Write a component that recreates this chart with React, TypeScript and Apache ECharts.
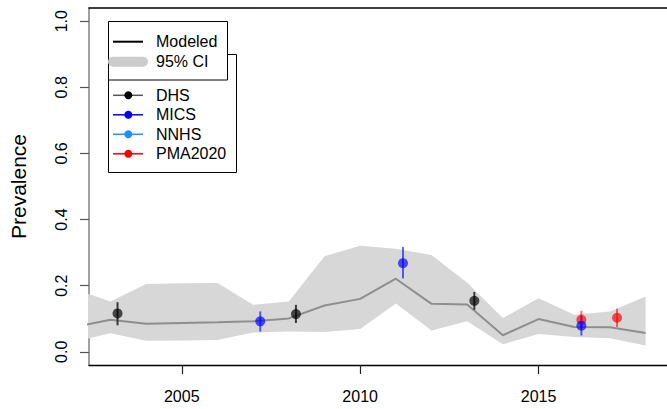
import React, { useEffect, useRef } from "react";
import * as echarts from "echarts";

// Modeled prevalence (yearly) with 95% CI
const years = [2002, 2003, 2004, 2005, 2006, 2007, 2008, 2009, 2010, 2011, 2012, 2013, 2014, 2015, 2016, 2017, 2018];
const modeled = [0.075, 0.097, 0.085, 0.087, 0.089, 0.092, 0.101, 0.140, 0.160, 0.221, 0.145, 0.143, 0.050, 0.099, 0.075, 0.074, 0.057];
const ciUpper = [0.190, 0.152, 0.205, 0.207, 0.208, 0.142, 0.152, 0.289, 0.321, 0.312, 0.293, 0.209, 0.102, 0.162, 0.112, 0.122, 0.167];
const ciLower = [0.031, 0.056, 0.033, 0.034, 0.036, 0.058, 0.061, 0.060, 0.069, 0.146, 0.064, 0.092, 0.023, 0.054, 0.045, 0.041, 0.019];

// Survey observations
const dhsX = [2003.2, 2008.2, 2013.2];
const dhsY = [0.116, 0.114, 0.154];
const dhsLo = [0.080, 0.087, 0.127];
const dhsHi = [0.150, 0.142, 0.181];

const micsX = [2007.2, 2011.2, 2016.2];
const micsY = [0.092, 0.268, 0.079];
const micsLo = [0.061, 0.222, 0.049];
const micsHi = [0.122, 0.317, 0.110];

const pmaX = [2016.2, 2017.2];
const pmaY = [0.097, 0.103];
const pmaLo = [0.070, 0.075];
const pmaHi = [0.124, 0.130];

const xTicks = [2005, 2010, 2015];
const yTicks = [0, 0.2, 0.4, 0.6, 0.8, 1.0];

const sourceNames = ["DHS", "MICS", "NNHS", "PMA2020"];
const sourceColors = ["#000000", "#0000ff", "#1e90ff", "#ff0000"];
const sourceLineColors = ["#555555", "#0000ff", "#1e90ff", "#ff0000"];

const FONT = "'Liberation Sans', Arial, Helvetica, sans-serif";

function errorBarSeries(name: string, xs: number[], lo: number[], hi: number[], color: string) {
  return {
    type: "custom",
    name: name + " CI",
    data: xs.map((x, i) => [x, lo[i], hi[i]]),
    renderItem: (params: any, api: any) => {
      const p1 = api.coord([api.value(0), api.value(1)]);
      const p2 = api.coord([api.value(0), api.value(2)]);
      return {
        type: "line",
        shape: { x1: p1[0], y1: p1[1], x2: p2[0], y2: p2[1] },
        style: { stroke: color, lineWidth: 2 },
      };
    },
    z: 3,
  };
}

function pointSeries(name: string, xs: number[], ys: number[], color: string) {
  return {
    type: "scatter",
    name,
    data: xs.map((x, i) => [x, ys[i]]),
    symbol: "circle",
    symbolSize: 10,
    itemStyle: { color },
    z: 4,
  };
}

export default function App() {
  const ref = useRef<HTMLDivElement>(null);
  useEffect(() => {
    document.body.style.margin = "0";
    if (!ref.current) return;
    const chart = echarts.init(ref.current, undefined, { renderer: "svg" });

    const legendGraphics: any[] = [];
    // box 2 (sources)
    legendGraphics.push({
      type: "rect",
      shape: { x: 108.5, y: 54.5, width: 128, height: 118 },
      style: { fill: "#ffffff", stroke: "#000000", lineWidth: 1 },
      z: 100,
    });
    sourceNames.forEach((n, i) => {
      const y = 95.3 + i * 19.5;
      legendGraphics.push({
        type: "line",
        shape: { x1: 113, y1: y, x2: 143, y2: y },
        style: { stroke: sourceLineColors[i], lineWidth: 1.5 },
        z: 101,
      });
      legendGraphics.push({
        type: "circle",
        shape: { cx: 128.3, cy: y, r: 4 },
        style: { fill: sourceColors[i] },
        z: 102,
      });
      legendGraphics.push({
        type: "text",
        x: 156,
        y,
        style: { text: n, fill: "#000", font: `16px ${FONT}`, verticalAlign: "middle" },
        z: 102,
      });
    });
    // box 1 (model)
    legendGraphics.push({
      type: "rect",
      shape: { x: 108.5, y: 21.5, width: 119, height: 58.5 },
      style: { fill: "#ffffff", stroke: "#000000", lineWidth: 1 },
      z: 110,
    });
    legendGraphics.push({
      type: "line",
      shape: { x1: 113, y1: 41.7, x2: 143, y2: 41.7 },
      style: { stroke: "#000000", lineWidth: 2 },
      z: 111,
    });
    legendGraphics.push({
      type: "text",
      x: 156,
      y: 41.7,
      style: { text: "Modeled", fill: "#000", font: `16px ${FONT}`, verticalAlign: "middle" },
      z: 111,
    });
    legendGraphics.push({
      type: "line",
      shape: { x1: 113, y1: 61.7, x2: 143, y2: 61.7 },
      style: { stroke: "#cccccc", lineWidth: 10, lineCap: "round" },
      z: 111,
    });
    legendGraphics.push({
      type: "text",
      x: 156,
      y: 61.7,
      style: { text: "95% CI", fill: "#000", font: `16px ${FONT}`, verticalAlign: "middle" },
      z: 111,
    });

    const xMin = 2002.4;
    const xMax = 2018.6;

    chart.setOption({
      animation: false,
      textStyle: { fontFamily: FONT },
      grid: { left: 87, top: 8, width: 584, height: 357, containLabel: false },
      xAxis: [
        {
          type: "value",
          min: xMin,
          max: xMax,
          position: "bottom",
          axisLine: { show: true, onZero: false, lineStyle: { color: "#000", width: 1.3 } },
          axisTick: { show: true, length: 9, customValues: xTicks, lineStyle: { color: "#222", width: 1.2 } },
          axisLabel: {
            customValues: xTicks,
            fontSize: 16,
            color: "#000",
            margin: 23,
            fontFamily: FONT,
            formatter: (v: number) => String(Math.round(v)),
          },
          splitLine: { show: false },
        },
        {
          type: "value",
          min: xMin,
          max: xMax,
          position: "top",
          axisLine: { show: true, onZero: false, lineStyle: { color: "#000", width: 1.5 } },
          axisTick: { show: false },
          axisLabel: { show: false },
          splitLine: { show: false },
        },
      ],
      yAxis: {
        type: "value",
        min: -0.04,
        max: 1.04,
        name: "Prevalence",
        nameLocation: "middle",
        nameRotate: 90,
        nameGap: 60,
        nameTextStyle: { fontSize: 21, color: "#000", fontFamily: FONT },
        axisLine: { show: true, onZero: false, lineStyle: { color: "#808080", width: 1.5 } },
        axisTick: { show: true, length: 9, customValues: yTicks, lineStyle: { color: "#555", width: 1.2 } },
        axisLabel: {
          customValues: yTicks,
          rotate: 90,
          fontSize: 16,
          color: "#000",
          margin: 20,
          fontFamily: FONT,
          formatter: (v: number) => v.toFixed(1),
        },
        splitLine: { show: false },
      },
      graphic: legendGraphics,
      series: [
        {
          type: "custom",
          name: "95% CI",
          clip: true,
          data: years.map((y, i) => [y, ciLower[i], ciUpper[i]]),
          renderItem: (params: any, api: any) => {
            if (params.dataIndex !== 0) return null;
            const top = years.map((y, i) => api.coord([y, ciUpper[i]]));
            const bottom = years.map((y, i) => api.coord([y, ciLower[i]])).reverse();
            return {
              type: "polygon",
              shape: { points: top.concat(bottom) },
              style: { fill: "#d7d7d7", stroke: "none" },
            };
          },
          z: 1,
        },
        {
          type: "line",
          name: "Modeled",
          data: years.map((y, i) => [y, modeled[i]]),
          showSymbol: false,
          symbol: "none",
          lineStyle: { color: "#8e8e8e", width: 2 },
          clip: true,
          z: 2,
        },
        errorBarSeries("DHS", dhsX, dhsLo, dhsHi, "rgba(30,30,30,0.85)"),
        pointSeries("DHS", dhsX, dhsY, "rgba(0,0,0,0.85)"),
        errorBarSeries("PMA2020", pmaX, pmaLo, pmaHi, "rgba(255,0,0,0.6)"),
        pointSeries("PMA2020", pmaX, pmaY, "rgba(255,0,0,0.85)"),
        errorBarSeries("MICS", micsX, micsLo, micsHi, "rgba(0,0,255,0.6)"),
        pointSeries("MICS", micsX, micsY, "rgba(0,0,255,0.85)"),
      ],
    });
    return () => chart.dispose();
  }, []);
  return <div ref={ref} style={{ width: 667, height: 409 }} />;
}
